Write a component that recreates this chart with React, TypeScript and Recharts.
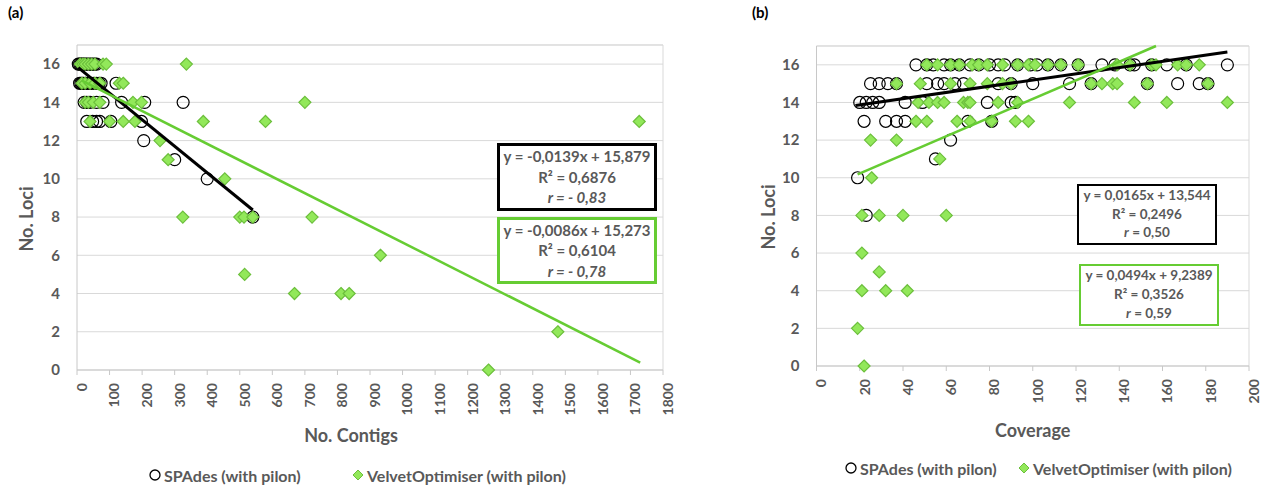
import React from 'react';
import { ScatterChart, Scatter, XAxis, YAxis, CartesianGrid, ReferenceLine } from 'recharts';

type Pt = { x: number; y: number };
const pts = (a: number[][]): Pt[] => a.map(([x, y]) => ({ x, y }));

// ---- axes ----
const lociTicks = [0, 2, 4, 6, 8, 10, 12, 14, 16];
const contigTicks = [0, 100, 200, 300, 400, 500, 600, 700, 800, 900, 1000, 1100, 1200, 1300, 1400, 1500, 1600, 1700, 1800];
const coverageTicks = [0, 20, 40, 60, 80, 100, 120, 140, 160, 180, 200];

// ---- (a) No. Contigs vs No. Loci ----
const spadesContigs = pts([
    [4, 16], [8, 16], [12, 16], [16, 16], [20, 16], [25, 16], [30, 16], [36, 16], [42, 16], [48, 16], [54, 16], [60, 16],
    [8, 15], [12, 15], [16, 15], [20, 15], [26, 15], [32, 15], [38, 15], [45, 15], [52, 15], [60, 15], [68, 15], [74, 15], [120, 15],
    [22, 14], [30, 14], [40, 14], [60, 14], [80, 14], [137, 14], [208, 14], [326, 14],
    [30, 13], [48, 13], [60, 13], [70, 13], [104, 13], [198, 13],
    [205, 12], [300, 11], [400, 10], [540, 8],
]);
const velvetContigs = pts([
    [10, 16], [18, 16], [25, 16], [35, 16], [45, 16], [55, 16], [80, 16], [90, 16], [336, 16],
    [15, 15], [25, 15], [40, 15], [55, 15], [70, 15], [130, 15], [142, 15],
    [25, 14], [35, 14], [50, 14], [70, 14], [172, 14], [198, 14], [700, 14],
    [40, 13], [100, 13], [142, 13], [178, 13], [388, 13], [579, 13], [1727, 13],
    [255, 12], [280, 11], [454, 10],
    [325, 8], [500, 8], [513, 8], [540, 8], [722, 8],
    [932, 6], [515, 5], [668, 4], [811, 4], [836, 4], [1477, 2], [1264, 0],
]);
const spadesContigsTrend = pts([[4, 15.82], [540, 8.37]]);
const velvetContigsTrend = pts([[15, 15.14], [1730, 0.39]]);

// ---- (b) Coverage vs No. Loci ----
const spadesCoverage = pts([
    [46, 16], [51, 16], [54, 16], [59, 16], [62, 16], [66, 16], [71, 16], [75, 16], [80, 16], [84, 16], [87, 16], [93, 16],
    [99, 16], [102, 16], [107, 16], [113, 16], [121, 16], [132, 16], [138, 16], [145, 16], [147, 16], [155, 16], [162, 16], [171, 16], [190, 16],
    [25, 15], [29, 15], [33, 15], [37, 15], [51, 15], [56, 15], [59, 15], [64, 15], [68, 15], [84, 15], [90, 15], [100, 15],
    [117, 15], [127, 15], [153, 15], [167, 15], [177, 15], [181, 15],
    [20, 14], [23, 14], [26, 14], [29, 14], [41, 14], [49, 14], [79, 14], [90, 14], [92, 14],
    [22, 13], [32, 13], [37, 13], [41, 13], [70, 13], [81, 13],
    [62, 12], [55, 11], [19, 10], [23, 8],
]);
const velvetCoverage = pts([
    [51, 16], [56, 16], [62, 16], [66, 16], [72, 16], [75, 16], [79, 16], [86, 16], [93, 16], [98, 16], [101, 16], [107, 16],
    [113, 16], [121, 16], [139, 16], [145, 16], [155, 16], [157, 16], [167, 16], [171, 16], [177, 16],
    [37, 15], [48, 15], [62, 15], [71, 15], [79, 15], [86, 15], [90, 15], [127, 15], [132, 15], [137, 15], [139, 15], [153, 15], [181, 15],
    [47, 14], [52, 14], [56, 14], [59, 14], [68, 14], [70, 14], [71, 14], [84, 14], [93, 14], [117, 14], [147, 14], [162, 14], [190, 14],
    [46, 13], [51, 13], [65, 13], [71, 13], [81, 13], [92, 13], [98, 13],
    [25, 12], [37, 12], [57, 11], [25.5, 10],
    [21, 8], [29, 8], [40, 8], [60, 8], [21, 6], [29, 5], [21, 4], [32, 4], [42, 4], [19, 2], [22, 0],
]);
const spadesCoverageTrend = pts([[18, 13.84], [190, 16.68]]);
const velvetCoverageTrend = pts([[19, 10.18], [157, 17]]);

const textGray = '#595959';
const grid = '#d9d9d9';
const axisGray = '#c8c8c8';
const greenFill = '#92e85a';
const greenStroke = '#6cbf3c';
const greenLine = '#66cc33';
const font = 'Lato, "Open Sans", sans-serif';

function CircleMark(props: any) {
    const { cx, cy } = props;
    if (cx == null || cy == null) return null;
    return <circle cx={cx} cy={cy} r={6} fill="none" stroke="#000" strokeWidth={1.2} />;
}

function DiamondMark(props: any) {
    const { cx, cy } = props;
    if (cx == null || cy == null) return null;
    const r = 6;
    return <path d={`M${cx} ${cy - r}L${cx + r} ${cy}L${cx} ${cy + r}L${cx - r} ${cy}Z`} fill={greenFill} stroke={greenStroke} strokeWidth={1.2} />;
}

const NoMark = () => <g />;

interface PanelProps {
    width: number;
    marginRight: number;
    marginTop: number;
    xAxisHeight: number;
    yAxisWidth: number;
    xLabel: string;
    xLabelOffset: number;
    xLabelDx: number;
    xDomain: [number, number];
    xTicks: number[];
    spades: Pt[];
    velvet: Pt[];
    spadesTrend: Pt[];
    velvetTrend: Pt[];
}

function Panel(p: PanelProps) {
    return (
        <ScatterChart width={p.width} height={489} margin={{ top: p.marginTop, right: p.marginRight, left: 0, bottom: 0 }}>
            <CartesianGrid vertical={false} stroke={grid} />
            <XAxis
                type="number"
                dataKey="x"
                domain={p.xDomain}
                ticks={p.xTicks}
                interval={0}
                height={p.xAxisHeight}
                axisLine={{ stroke: axisGray }}
                tickLine={{ stroke: axisGray }}
                tickSize={5}
                tickMargin={8}
                tick={{ angle: -90, textAnchor: 'end', verticalAnchor: 'middle', fill: textGray, fontSize: 14, fontWeight: 700, fontFamily: font } as any}
                label={{ value: p.xLabel, position: 'insideBottom', offset: p.xLabelOffset, dx: p.xLabelDx, fill: textGray, fontSize: 18, fontWeight: 700, fontFamily: font } as any}
            />
            <YAxis
                type="number"
                dataKey="y"
                domain={[0, 17]}
                ticks={lociTicks}
                interval={0}
                width={p.yAxisWidth}
                axisLine={{ stroke: axisGray }}
                tickLine={false}
                tickSize={0}
                tickMargin={17}
                tick={{ fill: textGray, fontSize: 15, fontWeight: 700, fontFamily: font }}
            />
            <ReferenceLine y={17} stroke={grid} />
            <ReferenceLine x={p.xDomain[1]} stroke={grid} />
            <Scatter name="SPAdes (with pilon)" data={p.spades} shape={CircleMark} isAnimationActive={false} />
            <Scatter name="VelvetOptimiser (with pilon)" data={p.velvet} shape={DiamondMark} isAnimationActive={false} />
            <Scatter data={p.spadesTrend} shape={NoMark} line={{ stroke: '#000', strokeWidth: 3 }} fill="#000" isAnimationActive={false} />
            <Scatter data={p.velvetTrend} shape={NoMark} line={{ stroke: greenLine, strokeWidth: 2.5 }} fill={greenLine} isAnimationActive={false} />
        </ScatterChart>
    );
}

function YTitle({ cx, cy }: { cx: number; cy: number }) {
    return (
        <div style={{
            position: 'absolute', left: cx - 60, top: cy - 12, width: 120, height: 24, lineHeight: '24px', textAlign: 'center',
            transform: 'rotate(-90deg)', fontFamily: font, fontWeight: 700, fontSize: 18, color: textGray, whiteSpace: 'nowrap',
        }}>No. Loci</div>
    );
}

function EqBox({ left, top, width, height, color, border, fontSize, lines, rItalicAll }: {
    left: number; top: number; width: number; height: number; color: string; border: number; fontSize: number; lines: string[]; rItalicAll: boolean;
}) {
    const lh = (height - 2 * border) / 3;
    return (
        <div style={{
            position: 'absolute', left, top, width, height, boxSizing: 'border-box', border: `${border}px solid ${color}`,
            background: '#fff', color: textGray, fontFamily: font, fontWeight: 700, fontSize, textAlign: 'center', lineHeight: `${lh}px`,
            whiteSpace: 'nowrap',
        }}>
            <div>{lines[0]}</div>
            <div>{lines[1]}</div>
            <div>
                {rItalicAll ? <i>{lines[2]}</i> : <><i>r</i>{lines[2].slice(1)}</>}
            </div>
        </div>
    );
}

function LegendRow({ top, circleX, diamondX }: { top: number; circleX: number; diamondX: number }) {
    const item: React.CSSProperties = {
        position: 'absolute', top, display: 'flex', alignItems: 'center', whiteSpace: 'nowrap',
        fontFamily: font, fontWeight: 700, fontSize: 16, color: textGray, height: 20,
    };
    return (
        <>
            <div style={{ ...item, left: circleX }}>
                <svg width={12} height={12} style={{ marginRight: 3 }}><circle cx={6} cy={6} r={5} fill="none" stroke="#000" strokeWidth={1.3} /></svg>
                SPAdes (with pilon)
            </div>
            <div style={{ ...item, left: diamondX }}>
                <svg width={12} height={12} style={{ marginRight: 3 }}><path d="M6 1L11 6L6 11L1 6Z" fill={greenFill} stroke={greenStroke} strokeWidth={1} /></svg>
                VelvetOptimiser (with pilon)
            </div>
        </>
    );
}

export default function App() {
    return (
        <div style={{ position: 'absolute', left: 0, top: 0, width: 1267, height: 489, background: '#fff', fontFamily: font, overflow: 'hidden' }}>
            <div style={{ position: 'absolute', left: 0, top: 0 }}>
                <Panel
                    width={680} marginRight={17} marginTop={45} xAxisHeight={119} yAxisWidth={77}
                    xLabel="No. Contigs" xLabelOffset={47} xLabelDx={-19} xDomain={[0, 1800]} xTicks={contigTicks}
                    spades={spadesContigs} velvet={velvetContigs} spadesTrend={spadesContigsTrend} velvetTrend={velvetContigsTrend}
                />
            </div>
            <div style={{ position: 'absolute', left: 740, top: 0 }}>
                <Panel
                    width={527} marginRight={18} marginTop={46} xAxisHeight={123} yAxisWidth={76.5}
                    xLabel="Coverage" xLabelOffset={52} xLabelDx={0} xDomain={[0, 200]} xTicks={coverageTicks}
                    spades={spadesCoverage} velvet={velvetCoverage} spadesTrend={spadesCoverageTrend} velvetTrend={velvetCoverageTrend}
                />
            </div>

            <YTitle cx={26} cy={219} />
            <YTitle cx={768} cy={217} />

            <div style={{ position: 'absolute', left: 8, top: 3, fontFamily: font, fontWeight: 700, fontSize: 15, color: '#000' }}>(a)</div>
            <div style={{ position: 'absolute', left: 752, top: 3, fontFamily: font, fontWeight: 700, fontSize: 15, color: '#000' }}>(b)</div>

            <EqBox left={497} top={143} width={160} height={68} color="#000" border={3} fontSize={15} rItalicAll
                lines={['y = -0,0139x + 15,879', 'R² = 0,6876', 'r = - 0,83']} />
            <EqBox left={497} top={217} width={160} height={67} color={greenLine} border={3} fontSize={15} rItalicAll
                lines={['y = -0,0086x + 15,273', 'R² = 0,6104', 'r = - 0,78']} />
            <EqBox left={1077} top={184} width={140} height={61} color="#000" border={2.5} fontSize={13.5} rItalicAll={false}
                lines={['y = 0,0165x + 13,544', 'R² = 0,2496', 'r = 0,50']} />
            <EqBox left={1079} top={264} width={140} height={62} color={greenLine} border={2.5} fontSize={13.5} rItalicAll={false}
                lines={['y = 0,0494x + 9,2389', 'R² = 0,3526', 'r = 0,59']} />

            <LegendRow top={465} circleX={149} diamondX={352} />
            <LegendRow top={458} circleX={845} diamondX={1018} />
        </div>
    );
}
